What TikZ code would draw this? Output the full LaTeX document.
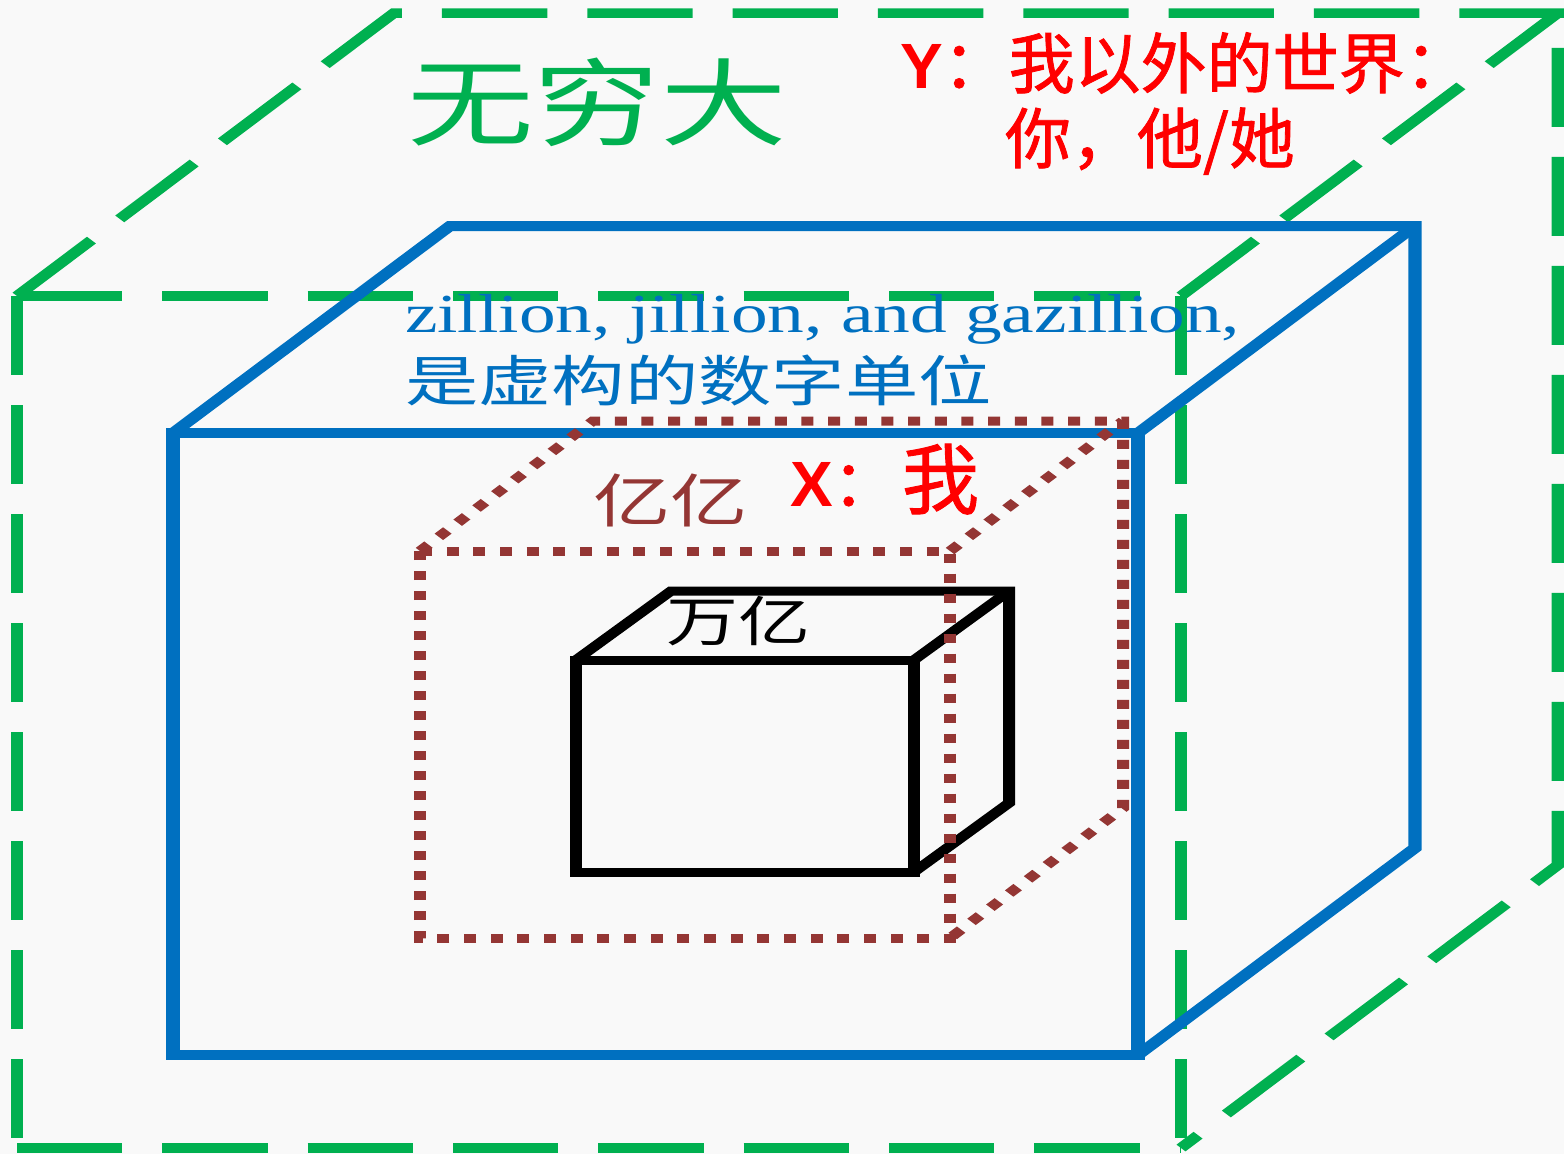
\documentclass[tikz,border=0pt]{standalone}
\usepackage{fontspec}
\setmainfont{Liberation Serif}
\newfontfamily\cjk{Noto Sans CJK SC}
\newfontfamily\cjkb[FakeBold=1.2]{Noto Sans CJK SC}
\newfontfamily\lsans{Liberation Sans}
\newfontfamily\lserif{Liberation Serif}
\definecolor{bgc}{HTML}{F9F9F9}
\definecolor{gr}{HTML}{00B050}
\definecolor{bl}{HTML}{0070C0}
\definecolor{br}{HTML}{943634}
\definecolor{rd}{HTML}{FF0000}
\tikzset{
  txt/.style={inner sep=0pt, outer sep=0pt, anchor=base west},
  greenline/.style={draw=gr, line width=9.5pt, dash pattern=on 79pt off 30pt, line cap=butt},
  blueline/.style={draw=bl, line width=10pt, line join=miter},
  brownline/.style={draw=br, line width=9pt, dash pattern=on 9pt off 11pt, line cap=butt},
  blackline/.style={draw=black, line width=9pt, line join=miter},
}
\newcommand{\fs}[1]{\fontsize{#1}{#1}\selectfont}
\begin{document}
\begin{tikzpicture}[x=1pt,y=-1pt]
\fill[bgc] (0,0) rectangle (1564,1154);
\useasboundingbox (0,0) rectangle (1564,1154);
\begin{scope}[transform canvas={xscale=1.33333}, x=0.75pt, y=-1pt]
  % green (outer) box
  \coordinate (gA) at (17,296);   \coordinate (gB) at (1181,296);
  \coordinate (gC) at (1181,1148); \coordinate (gD) at (17,1148);
  \coordinate (gA2) at (394,13);  \coordinate (gB2) at (1558,13);
  \coordinate (gC2) at (1558,865);
  \draw[greenline] (gA) -- (gB);
  \draw[greenline] (gA) -- (gD);
  \draw[greenline] (gD) -- (gC);
  \draw[greenline] (gB) -- (gC);
  \draw[greenline] (gA) -- (gA2) -- (gB2) -- (gC2) -- (gC);
  \draw[greenline] (gB) -- (gB2);
  % blue box
  \coordinate (bA) at (173,433);   \coordinate (bB) at (1138,433);
  \coordinate (bC) at (1138,1055); \coordinate (bD) at (173,1055);
  \coordinate (bA2) at (450,226);  \coordinate (bB2) at (1415,226);
  \coordinate (bC2) at (1415,848);
  \draw[blueline] (bA) -- (bB) -- (bC) -- (bD) -- cycle;
  \draw[blueline] (bA) -- (bA2) -- (bB2) -- (bC2) -- (bC);
  \draw[blueline] (bB) -- (bB2);
  % black box
  \coordinate (kA) at (576,660);  \coordinate (kB) at (914,660);
  \coordinate (kC) at (914,872);  \coordinate (kD) at (576,872);
  \coordinate (kA2) at (671,591); \coordinate (kB2) at (1009,591);
  \coordinate (kC2) at (1009,803);
  \draw[blackline] (kA) -- (kB) -- (kC) -- (kD) -- cycle;
  \draw[blackline] (kA) -- (kA2) -- (kB2) -- (kC2) -- (kC);
  \draw[blackline] (kB) -- (kB2);
  % brown dotted box
  \coordinate (rA) at (420,551);  \coordinate (rB) at (950,551);
  \coordinate (rC) at (950,938);  \coordinate (rD) at (420,938);
  \coordinate (rA2) at (593,421); \coordinate (rB2) at (1123,421);
  \coordinate (rC2) at (1123,808);
  \draw[brownline] (rA) -- (rB) -- (rC) -- (rD) -- cycle;
  \draw[brownline] (rA) -- (rA2) -- (rB2) -- (rC2) -- (rC);
  \draw[brownline] (rB) -- (rB2);
  % stretched texts
  \node[txt, text=gr, font=\cjk\fs{95}] (inf) at (407,138) {无穷大};
  \node[txt, text=bl, font=\lserif\fs{55}] (zil) at (405,332) {zillion, jillion, and gazillion,};
  \node[txt, text=bl, font=\cjk\fs{55}] (fic) at (405,401) {是虚构的数字单位};
  \node[txt, text=br, font=\cjk\fs{58}] (yy) at (593,522) {亿亿};
  \node[txt, text=black, font=\cjk\fs{54}] (wy) at (666,641) {万亿};
\end{scope}
% red texts (not stretched)
\node[txt, text=rd] (y1) at (900,88) {{\lsans\bfseries\fs{64}Y}{\cjkb\fs{66}：我以外的世界：}};
\node[txt, text=rd, font=\cjkb\fs{66}] (y2) at (1005,163) {你，他/她};
\node[txt, text=rd] (x1) at (790,506) {{\lsans\bfseries\fs{64}X}{\cjkb\fs{64}：}};
\node[txt, text=rd, font=\cjkb\fs{77}] (me) at (902,508) {我};
\end{tikzpicture}
\end{document}
